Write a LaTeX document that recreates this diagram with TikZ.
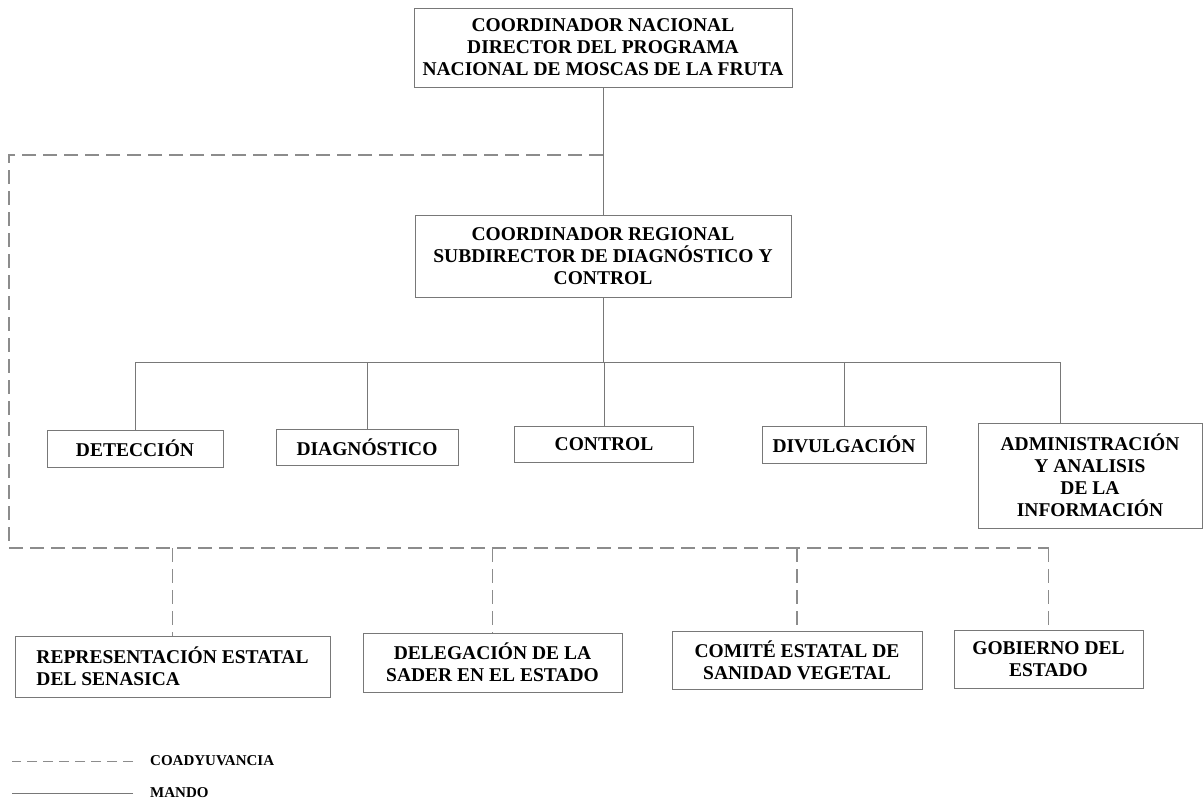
\documentclass[tikz,border=0pt]{standalone}
\usepackage{fontspec}
\setmainfont{Liberation Serif}
\usepackage{tikz}
\usetikzlibrary{positioning, calc}
\definecolor{orggray}{RGB}{120,120,120}

\begin{document}
\begin{tikzpicture}[x=1pt,y=-1pt,
  caja/.style={draw=orggray,line width=0.9pt,inner sep=0pt,align=center,
    font=\bfseries\fontsize{19.5}{22}\selectfont},
  mando/.style={draw=orggray,line width=0.9pt},
  coad/.style={draw=orggray!85,line width=1.1pt,dash pattern=on 14pt off 7pt},
  leyenda/.style={anchor=west,inner sep=0pt,font=\bfseries\fontsize{15}{17}\selectfont}]
\useasboundingbox (0,0) rectangle (1204,800);

% Coordinacion
\node[caja,minimum width=378pt,minimum height=79pt] (nac) at (603,47.5)
  {COORDINADOR NACIONAL\\DIRECTOR DEL PROGRAMA\\NACIONAL DE MOSCAS DE LA FRUTA};
\node[caja,minimum width=376pt,minimum height=82pt] (reg) at (603,256)
  {COORDINADOR REGIONAL\\SUBDIRECTOR DE DIAGNÓSTICO Y\\CONTROL};

% Areas
\node[caja,minimum width=176pt,minimum height=37pt] (det) at (135,448.5) {DETECCIÓN};
\node[caja,minimum width=182pt,minimum height=36pt] (dia) at (367,447) {DIAGNÓSTICO};
\node[caja,minimum width=179pt,minimum height=36pt] (ctl) at (604,444) {CONTROL};
\node[caja,minimum width=164pt,minimum height=37pt] (div) at (844,444.5) {DIVULGACIÓN};
\node[caja,minimum width=224pt,minimum height=105pt] (adm) at (1090,475.5)
  {ADMINISTRACIÓN\\Y ANALISIS\\DE LA\\INFORMACIÓN};

% Instancias estatales
\node[caja,align=left,minimum width=315pt,minimum height=61pt] (rep) at (172.5,666.5)
  {REPRESENTACIÓN ESTATAL\\DEL SENASICA};
\node[caja,minimum width=259pt,minimum height=59pt] (del) at (492.5,662.5)
  {DELEGACIÓN DE LA\\SADER EN EL ESTADO};
\node[caja,minimum width=250pt,minimum height=58pt] (com) at (797,660)
  {COMITÉ ESTATAL DE\\SANIDAD VEGETAL};
\node[caja,minimum width=189pt,minimum height=58pt] (gob) at (1048.5,659)
  {GOBIERNO DEL\\ESTADO};

% Lineas de mando
\coordinate (bus) at (603,362);
\draw[mando] (nac) -- (reg);
\draw[mando] (reg) -- (bus);
\foreach \n in {det,dia,ctl,div}
  \draw[mando] (bus) -| (\n.north);
\draw[mando] (bus) -| ([xshift=-30pt]adm.north);

% Coadyuvancia
\coordinate (dtop) at (603,155);
\coordinate (dbot) at (9,548);
\draw[coad] (dtop) -- (dtop -| dbot) -- (dbot) -- (gob.north |- dbot);
\foreach \n in {rep,del,com,gob}
  \draw[coad] (\n.north |- dbot) -- (\n.north);

% Leyenda
\node[leyenda] (leyc) at (150,761) {COADYUVANCIA};
\node[leyenda] (leym) at (150,793) {MANDO};
\draw[coad,line width=0.9pt,dash pattern=on 10pt off 6pt] ([xshift=-17pt]leyc.west) -- ++(-121,0);
\draw[mando] ([xshift=-17pt]leym.west) -- ++(-121,0);
\end{tikzpicture}
\end{document}
